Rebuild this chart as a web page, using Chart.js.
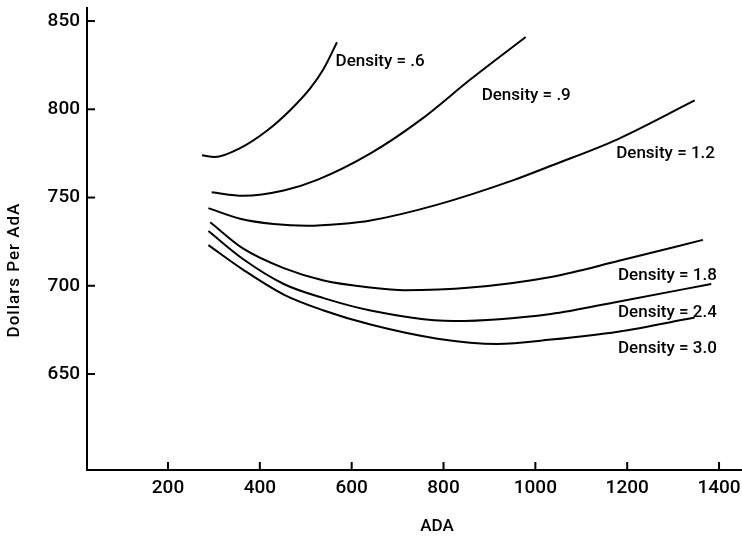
<!DOCTYPE html>
<html>
<head>
<meta charset="utf-8">
<script src="https://cdn.jsdelivr.net/npm/chart.js@4/dist/chart.umd.min.js"></script>
<style>
  html, body { margin: 0; padding: 0; background: #fff; }
  #wrap { width: 742px; height: 538px; }
</style>
</head>
<body>
<div id="wrap"><canvas id="chart"></canvas></div>
<script>
// values (ADA vs dollars per ADA)
const ada06 = [274, 302, 357, 416, 466, 510, 539, 568];
const cost06 = [774, 773, 778, 788, 799.5, 812, 823, 838];

const ada09 = [295, 364, 452, 525, 641, 750, 859, 979];
const cost09 = [753, 751, 754, 760, 775, 794, 817, 841];

const ada12 = [288, 357, 430, 503, 575, 641, 787, 954, 1034, 1179, 1347];
const cost12 = [744, 738, 735, 734, 735, 737, 746, 760, 768, 783, 805];

const ada18 = [292, 364, 452, 539, 641, 714, 859, 1034, 1180, 1365];
const cost18 = [736, 721, 710, 703, 699, 697.5, 699, 705, 714, 726];

const ada24 = [288, 364, 452, 539, 641, 823, 1034, 1180, 1383];
const cost24 = [731, 715, 701, 693, 686, 680, 684, 691, 701];

const ada30 = [288, 364, 452, 539, 641, 787, 917, 1034, 1180, 1347];
const cost30 = [723, 709, 695, 686, 678, 670, 667, 669.5, 674, 682];

const densityLabels = ['Density = .6', 'Density = .9', 'Density = 1.2', 'Density = 1.8', 'Density = 2.4', 'Density = 3.0'];
// where each curve label sits, in data units (left edge, middle)
const labelAda = [565, 883, 1176, 1180, 1180, 1180];
const labelCost = [827, 807.5, 775, 705.5, 684.5, 664.5];

const xTicks = [200, 400, 600, 800, 1000, 1200, 1400];
const yTicks = [650, 700, 750, 800, 850];

const FONT = 'Roboto, "Liberation Sans", Arial, sans-serif';

const series = [[ada06, cost06], [ada09, cost09], [ada12, cost12], [ada18, cost18], [ada24, cost24], [ada30, cost30]];

const datasets = series.map(([xs, ys], i) => ({
  label: densityLabels[i],
  data: xs.map((x, j) => ({ x, y: ys[j] })),
  borderColor: '#000',
  borderWidth: 2,
  pointRadius: 0,
  fill: false,
  cubicInterpolationMode: 'monotone'
}));

const decor = {
  id: 'decor',
  afterDraw(chart) {
    const { ctx, chartArea, scales: { x, y } } = chart;
    ctx.save();
    ctx.strokeStyle = '#000';
    ctx.lineWidth = 2;
    // inward tick marks
    yTicks.forEach(v => {
      const py = y.getPixelForValue(v);
      ctx.beginPath();
      ctx.moveTo(chartArea.left, py);
      ctx.lineTo(chartArea.left + 8, py);
      ctx.stroke();
    });
    xTicks.forEach(v => {
      const px = x.getPixelForValue(v);
      ctx.beginPath();
      ctx.moveTo(px, chartArea.bottom);
      ctx.lineTo(px, chartArea.bottom - 8);
      ctx.stroke();
    });

    ctx.fillStyle = '#000';
    ctx.font = '500 17px ' + FONT;
    ctx.textAlign = 'left';
    ctx.textBaseline = 'middle';
    densityLabels.forEach((t, i) => {
      ctx.fillText(t, x.getPixelForValue(labelAda[i]), y.getPixelForValue(labelCost[i]));
    });

    // axis titles
    ctx.textAlign = 'center';
    ctx.fillText('ADA', 437, 527);
    ctx.translate(15, 270);
    ctx.rotate(-Math.PI / 2);
    ctx.letterSpacing = '1px';
    ctx.fillText('Dollars Per AdA', 0, 0);
    ctx.restore();
  }
};

new Chart(document.getElementById('chart'), {
  type: 'line',
  data: { datasets },
  options: {
    responsive: true,
    maintainAspectRatio: false,
    animation: false,
    layout: { padding: { top: 8, right: 0, left: 0, bottom: 0 } },
    plugins: { legend: { display: false }, tooltip: { enabled: false } },
    scales: {
      x: {
        type: 'linear',
        min: 23.6,
        max: 1450,
        afterBuildTicks: s => { s.ticks = xTicks.map(value => ({ value })); },
        afterFit: s => { s.height = 68; s.paddingLeft = 0; s.paddingRight = 0; },
        grid: { display: false, drawTicks: false },
        border: { display: true, color: '#000', width: 2 },
        ticks: { color: '#000', padding: 7, maxRotation: 0, callback: v => String(v), font: { size: 19, weight: '500', family: FONT } }
      },
      y: {
        type: 'linear',
        min: 595.6,
        max: 857.4,
        afterBuildTicks: s => { s.ticks = yTicks.map(value => ({ value })); },
        afterFit: s => { s.width = 87; s.paddingTop = 0; s.paddingBottom = 0; },
        grid: { display: false, drawTicks: false },
        border: { display: true, color: '#000', width: 2 },
        ticks: { color: '#000', padding: 7, callback: v => String(v), font: { size: 19, weight: '500', family: FONT } }
      }
    }
  },
  plugins: [decor]
});
</script>
</body>
</html>
